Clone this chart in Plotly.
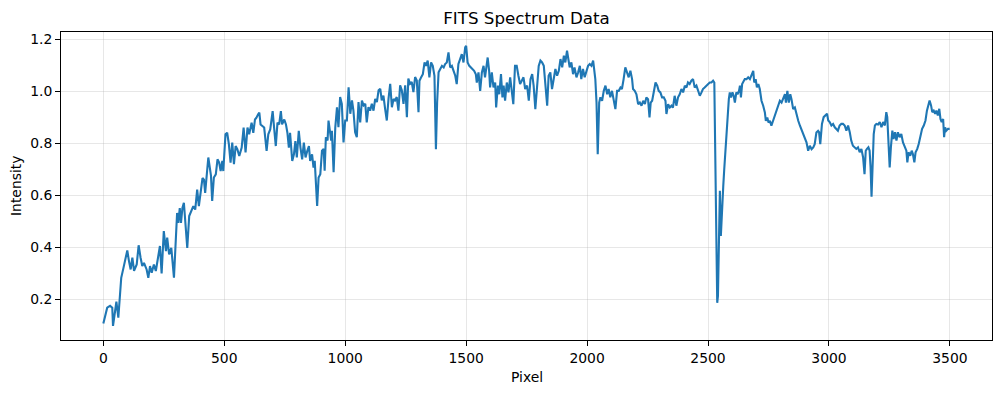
import plotly.graph_objects as go

# Spectrum samples (pixel index, intensity)
pixel = [
    0, 7, 16, 28, 37, 40, 54, 62, 74, 83, 92, 99, 106, 113, 120, 127, 138, 146, 154, 161,
    168, 179, 186, 193, 200, 209, 217, 226, 234, 241, 250, 259, 264, 272, 281, 292, 300, 305, 310, 316,
    321, 327, 333, 338, 347, 355, 363, 372, 380, 388, 395, 402, 410, 416, 421,
    434, 445, 450, 457, 465, 472, 479, 485, 492, 496, 505, 512, 519, 526, 533, 540, 547, 554, 562, 572,
    580, 588, 596, 603, 613, 620, 627, 633, 640, 645, 650, 657, 665, 675, 682, 690, 700, 706, 713, 720,
    727, 734, 739, 748, 755, 761, 767, 772, 781, 788, 794, 800, 808, 815, 822, 829, 836, 843, 850, 855,
    863, 869, 874,
    884, 890, 897, 904, 911, 915, 920, 927, 931, 938, 942, 945, 952, 959, 966, 972, 979, 986, 993, 1000,
    1007, 1014, 1021, 1028, 1034, 1041, 1048, 1055, 1062, 1069, 1076, 1083, 1089, 1096, 1103, 1110, 1117, 1124, 1131, 1138,
    1145, 1151, 1158, 1165, 1172, 1179, 1186, 1193, 1200, 1206, 1213, 1220, 1227, 1234, 1241, 1248, 1255, 1261, 1268, 1275,
    1282, 1289, 1296, 1303,
    1307, 1314, 1321, 1328, 1334, 1341, 1348, 1355, 1362, 1369, 1375, 1380, 1386, 1393, 1400, 1407, 1413, 1420, 1427, 1434,
    1441, 1448, 1455, 1461, 1468, 1475, 1482, 1489, 1496, 1500, 1506, 1513, 1519, 1526, 1533, 1540, 1544, 1551, 1558, 1565,
    1572, 1578, 1585, 1589, 1595, 1599, 1606, 1613, 1620, 1624, 1631, 1637, 1644, 1650, 1655, 1661, 1668, 1675, 1682, 1689,
    1695, 1702, 1709, 1716, 1723, 1730, 1737, 1744,
    1752, 1759, 1766, 1773, 1779, 1786, 1793, 1800, 1807, 1814, 1821, 1828, 1835, 1841, 1848, 1855, 1862, 1869, 1876, 1883,
    1890, 1897, 1904, 1910, 1917, 1921, 1928, 1935, 1942, 1948, 1956, 1963, 1970, 1976, 1983, 1990, 1997, 2004, 2011, 2018,
    2025, 2030, 2034, 2039, 2044, 2050, 2055, 2062, 2069, 2076, 2083, 2089, 2096, 2103, 2110, 2117, 2124, 2131, 2138, 2144,
    2151, 2158, 2165, 2172, 2179, 2186,
    2190, 2197, 2204, 2211, 2218, 2225, 2232, 2239, 2245, 2252, 2258, 2263, 2269, 2276, 2283, 2290, 2296, 2303, 2310, 2317,
    2324, 2328, 2335, 2342, 2349, 2355, 2362, 2369, 2376, 2383, 2390, 2397, 2404, 2411, 2417, 2424, 2431, 2438, 2445, 2452,
    2459, 2466, 2473, 2479, 2486, 2493, 2500, 2507, 2514, 2521, 2526,
    2530, 2534, 2538, 2541, 2545, 2549, 2553, 2557, 2563, 2567, 2573, 2577, 2581, 2586, 2590, 2595, 2601, 2606, 2611, 2617,
    2622, 2628, 2632, 2636, 2641, 2647, 2652, 2659, 2666, 2673, 2680, 2687, 2691, 2697, 2702, 2708, 2714, 2721, 2728, 2735,
    2739, 2745, 2750, 2756, 2762, 2769, 2776, 2783, 2790, 2797, 2804, 2811, 2818, 2822, 2828, 2834, 2840, 2845, 2852, 2859,
    2866, 2873, 2880, 2886, 2893, 2900, 2907, 2914, 2921, 2928, 2935, 2941, 2948, 2955,
    2959, 2964, 2971, 2978, 2985, 2992, 2997, 3003, 3010, 3017, 3024, 3030, 3037, 3044, 3051, 3058, 3065, 3072, 3079, 3086,
    3092, 3099, 3106, 3113, 3120, 3127, 3134, 3141, 3147, 3152, 3157, 3163, 3168, 3172, 3176, 3181, 3185, 3190, 3196, 3203,
    3210, 3217, 3224, 3231, 3237, 3241, 3245, 3251, 3256, 3262, 3267, 3273, 3279, 3285, 3292, 3299, 3306, 3313, 3320, 3324,
    3329, 3336, 3342, 3347, 3353, 3358, 3365, 3371, 3378, 3385, 3392, 3399, 3405, 3411, 3416, 3422, 3427, 3433, 3439, 3444,
    3450, 3456, 3461, 3466, 3472, 3476, 3480, 3485, 3492, 3499,
]

intensity = [
    0.107, 0.136, 0.168, 0.175, 0.168, 0.098, 0.191, 0.130, 0.283, 0.320, 0.354, 0.388, 0.347, 0.315, 0.360, 0.310, 0.334, 0.408, 0.360, 0.328,
    0.340, 0.315, 0.283, 0.328, 0.302, 0.334, 0.309, 0.360, 0.405, 0.300, 0.462, 0.385, 0.437, 0.373, 0.398, 0.283, 0.437, 0.532, 0.494, 0.551,
    0.494, 0.551, 0.571, 0.513, 0.398, 0.520, 0.539, 0.558, 0.545, 0.622, 0.558, 0.615, 0.666, 0.660, 0.609,
    0.745, 0.675, 0.578, 0.668, 0.680, 0.738, 0.725, 0.693, 0.732, 0.693, 0.834, 0.840, 0.796, 0.725, 0.802, 0.719, 0.789, 0.777, 0.751, 0.783,
    0.860, 0.764, 0.860, 0.834, 0.879, 0.840, 0.891, 0.898, 0.911, 0.917, 0.872, 0.866, 0.860, 0.770, 0.834, 0.853, 0.923, 0.860, 0.789, 0.879,
    0.872, 0.923, 0.872, 0.891, 0.872, 0.840, 0.783, 0.840, 0.732, 0.757, 0.808, 0.745, 0.847, 0.783, 0.738, 0.802, 0.745, 0.770, 0.789, 0.732,
    0.757, 0.706, 0.732,
    0.559, 0.668, 0.681, 0.771, 0.778, 0.694, 0.823, 0.810, 0.887, 0.848, 0.810, 0.848, 0.688, 0.861, 0.938, 0.861, 0.977, 0.951, 0.803, 0.887,
    0.887, 1.015, 0.913, 0.964, 0.925, 0.842, 0.823, 0.958, 0.880, 0.964, 0.945, 0.951, 0.880, 0.938, 0.925, 0.951, 0.925, 0.970, 0.958, 1.003,
    1.009, 0.964, 0.983, 0.932, 0.887, 0.970, 1.028, 0.938, 0.970, 0.964, 0.977, 0.925, 1.022, 1.003, 0.951, 1.022, 0.900, 1.048, 1.028, 1.035,
    0.996, 1.054, 1.041, 0.919,
    1.040, 1.053, 1.065, 1.110, 1.097, 1.117, 1.053, 1.110, 1.097, 1.059, 0.777, 0.956, 1.072, 1.085, 1.097, 1.091, 1.104, 1.110, 1.149, 1.091,
    1.097, 1.078, 1.059, 1.027, 1.104, 1.123, 1.142, 1.110, 1.168, 1.174, 1.110, 1.097, 1.091, 1.085, 1.078, 1.065, 1.033, 1.072, 1.001, 1.072,
    1.097, 1.053, 1.104, 1.129, 1.078, 1.014, 1.072, 1.014, 1.033, 0.937, 1.021, 0.988, 1.065, 0.976, 1.021, 0.963, 1.033, 0.995, 1.053, 1.008,
    0.950, 1.097, 1.097, 1.059, 1.027, 1.040, 1.053, 1.008,
    1.021, 0.963, 1.046, 1.065, 1.021, 0.931, 1.033, 1.097, 1.117, 1.110, 1.097, 1.033, 0.944, 1.059, 1.072, 1.008, 1.053, 1.085, 1.059, 1.078,
    1.123, 1.091, 1.136, 1.110, 1.155, 1.123, 1.091, 1.110, 1.065, 1.091, 1.053, 1.072, 1.097, 1.046, 1.085, 1.053, 1.072, 1.097, 1.104, 1.097,
    1.117, 1.085, 1.046, 0.956, 0.758, 0.956, 0.976, 0.963, 1.001, 1.021, 0.988, 1.008, 0.976, 1.001, 0.969, 0.931, 1.001, 1.001, 1.014, 1.008,
    1.046, 1.091, 1.072, 1.053, 1.078, 1.046,
    1.008, 1.001, 0.988, 0.950, 0.956, 0.944, 0.963, 0.950, 0.976, 0.969, 0.899, 0.956, 0.963, 1.008, 1.033, 1.021, 1.001, 0.995, 0.976, 0.976,
    0.963, 0.912, 0.950, 0.937, 0.944, 0.937, 0.982, 0.944, 0.976, 0.988, 1.008, 0.995, 1.021, 1.014, 1.033, 1.027, 1.040, 1.046, 1.014, 1.021,
    1.001, 0.982, 0.995, 1.008, 1.014, 1.021, 1.027, 1.033, 1.033, 1.040, 1.033,
    0.764, 0.444, 0.187, 0.213, 0.495, 0.617, 0.444, 0.546, 0.636, 0.700, 0.790, 0.879, 0.931, 0.969, 0.995, 0.976, 0.995, 0.982, 0.956, 0.995,
    0.988, 1.001, 1.021, 0.976, 1.027, 1.040, 1.046, 1.046, 1.053, 1.046, 1.059, 1.078, 1.033, 1.046, 1.014, 1.027, 1.008, 0.963, 0.944, 0.918,
    0.886, 0.899, 0.879, 0.886, 0.867, 0.886, 0.905, 0.931, 0.950, 0.963, 0.956, 0.969, 0.988, 0.956, 1.001, 0.956, 0.988, 0.969, 0.931, 0.937,
    0.905, 0.886, 0.867, 0.854, 0.835, 0.822, 0.803, 0.771, 0.790, 0.777, 0.784, 0.796, 0.841, 0.847,
    0.842, 0.796, 0.874, 0.900, 0.906, 0.913, 0.887, 0.881, 0.868, 0.874, 0.861, 0.855, 0.848, 0.868, 0.874, 0.874, 0.868, 0.848, 0.868, 0.842,
    0.810, 0.790, 0.784, 0.778, 0.784, 0.765, 0.778, 0.746, 0.681, 0.771, 0.778, 0.784, 0.771, 0.707, 0.594, 0.707, 0.835, 0.868, 0.874, 0.872,
    0.881, 0.861, 0.881, 0.868, 0.919, 0.900, 0.803, 0.707, 0.784, 0.848, 0.816, 0.842, 0.810, 0.842, 0.823, 0.835, 0.803, 0.784, 0.771, 0.726,
    0.765, 0.752, 0.771, 0.758, 0.726, 0.765, 0.778, 0.797, 0.823, 0.855, 0.868, 0.887, 0.925, 0.951, 0.964, 0.945, 0.919, 0.925, 0.913, 0.925,
    0.906, 0.932, 0.893, 0.881, 0.893, 0.823, 0.861, 0.848, 0.855, 0.855,
]

x_ticks = [0, 500, 1000, 1500, 2000, 2500, 3000, 3500]
y_ticks = [0.2, 0.4, 0.6, 0.8, 1.0, 1.2]

FONT = "DejaVu Sans"
GRID = "rgba(176,176,176,0.3)"

fig = go.Figure()
fig.add_trace(go.Scatter(
    x=pixel, y=intensity, mode="lines",
    line=dict(color="#1f77b4", width=2.1),
    showlegend=False, hoverinfo="skip",
))

axis_common = dict(
    showline=True, linecolor="black", linewidth=1, mirror=True,
    ticks="outside", ticklen=5, tickwidth=1, tickcolor="black",
    showgrid=True, gridcolor=GRID, gridwidth=1, zeroline=False,
    tickfont=dict(family=FONT, size=13.9, color="black"),
    automargin=False,
)

fig.update_layout(
    width=1001, height=393,
    margin=dict(l=61, r=9, t=32, b=53),
    paper_bgcolor="white", plot_bgcolor="white",
    font=dict(family=FONT, color="black"),
    title=dict(text="FITS Spectrum Data", x=0.5, xref="paper", y=1 - 18 / 393,
               yref="container", xanchor="center", yanchor="middle",
               font=dict(family=FONT, size=16.7, color="black")),
    xaxis=dict(range=[-175, 3674], tickvals=x_ticks, ticktext=[str(v) for v in x_ticks], **axis_common),
    yaxis=dict(range=[0.044, 1.227], tickvals=y_ticks, ticktext=[f"{v:.1f}" for v in y_ticks], **axis_common),
    annotations=[
        dict(text="Pixel", xref="paper", yref="paper", x=0.5, y=0, yshift=-37,
             xanchor="center", yanchor="middle", showarrow=False,
             font=dict(family=FONT, size=13.9, color="black")),
        dict(text="Intensity", xref="paper", yref="paper", x=0, y=0.5, xshift=-45,
             xanchor="center", yanchor="middle", textangle=-90, showarrow=False,
             font=dict(family=FONT, size=13.9, color="black")),
    ],
)

fig.write_html(
    "out.html",
    config={"displayModeBar": False},
    post_script="document.body.style.margin='0';document.body.style.overflow='hidden';",
)
